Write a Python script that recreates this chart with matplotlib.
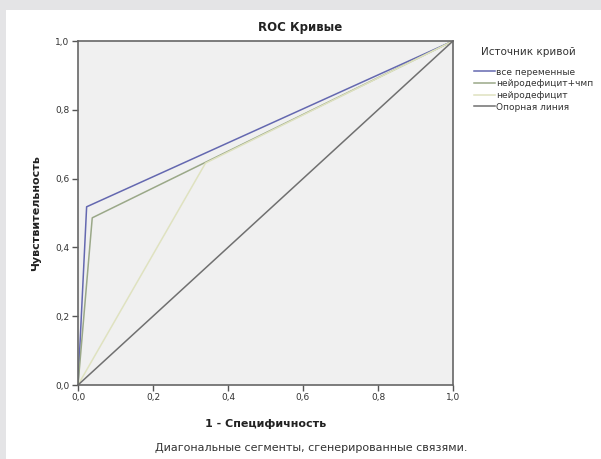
import numpy as np
import matplotlib
matplotlib.use("Agg")
from matplotlib import pyplot as plt
from matplotlib.patches import Rectangle

# ROC points (1 - specificity, sensitivity)
fpr_all = [0.0, 0.023, 1.0]
tpr_all = [0.0, 0.518, 1.0]
fpr_nd_tbi = [0.0, 0.038, 1.0]
tpr_nd_tbi = [0.0, 0.486, 1.0]
fpr_nd = [0.0, 0.34, 1.0]
tpr_nd = [0.0, 0.645, 1.0]
ref_line = [0.0, 1.0]

labels = ["все переменные", "нейродефицит+чмп", "нейродефицит", "Опорная линия"]
ticks = [0.0, 0.2, 0.4, 0.6, 0.8, 1.0]
tick_labels = ["0,0", "0,2", "0,4", "0,6", "0,8", "1,0"]

W, H = 601, 459
fig = plt.figure(figsize=(W / 100, H / 100), dpi=100)
fig.patch.set_facecolor("#e4e4e6")
fig.patches.append(Rectangle((6 / W, 0), 1, 1 - 10 / H, transform=fig.transFigure,
                             facecolor="white", edgecolor="none", zorder=-5))

ax = fig.add_axes([78 / W, 1 - 385 / H, 375 / W, 344 / H])
ax.set_zorder(2)
ax.set_facecolor("#f0f0f0")

ax.plot(fpr_all, tpr_all, color="#6468b0", lw=1.1, label=labels[0])
ax.plot(fpr_nd_tbi, tpr_nd_tbi, color="#9aa888", lw=1.1, label=labels[1])
ax.plot(fpr_nd, tpr_nd, color="#dfe2c0", lw=1.1, label=labels[2])
ax.plot(ref_line, ref_line, color="#707070", lw=1.1, label=labels[3])

ax.set_xlim(0, 1)
ax.set_ylim(0, 1)
ax.set_xticks(ticks)
ax.set_xticklabels(tick_labels)
ax.set_yticks(ticks)
ax.set_yticklabels(tick_labels)
ax.tick_params(labelsize=6.5, length=4, width=1, color="#555555", labelcolor="#333333", pad=2)
for s in ax.spines.values():
    s.set_color("#666666")
    s.set_linewidth(1.2)

ax.set_xlabel("1 - Специфичность", fontsize=8, fontweight="bold", color="#222222", labelpad=12)
ax.set_ylabel("Чувствительность", fontsize=8, fontweight="bold", color="#222222", labelpad=10)

fig.text(300 / W, 1 - 28 / H, "ROC Кривые", ha="center", va="center",
         fontsize=8.5, fontweight="bold", color="#222222")
fig.text(311 / W, 1 - 448 / H, "Диагональные сегменты, сгенерированные связями.",
         ha="center", va="center", fontsize=8, color="#333333")

# legend title placed separately (bigger gap than matplotlib default)
fig.text(528 / W, 1 - 52 / H, "Источник кривой", ha="center", va="center",
         fontsize=7.5, color="#333333")
leg = fig.legend(loc="upper left", bbox_to_anchor=(469 / W, 1 - 63 / H), frameon=False,
                 fontsize=6.5, handlelength=2.4, handletextpad=0.1,
                 labelspacing=0.3, borderpad=0)
for t in leg.get_texts():
    t.set_color("#333333")

fig.savefig("out.png", dpi=100, facecolor=fig.get_facecolor())
